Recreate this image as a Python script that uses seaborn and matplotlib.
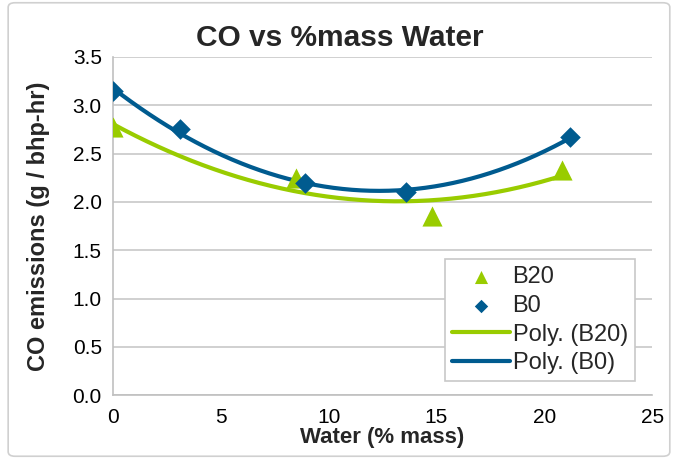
import numpy as np
import pandas as pd
import matplotlib
matplotlib.use("Agg")
import matplotlib.pyplot as plt
import seaborn as sns
from matplotlib.patches import FancyBboxPatch

# Data
b20_x = [0.0, 8.5, 14.8, 20.8]
b20_y = [2.77, 2.25, 1.85, 2.33]
b0_x = [0.0, 3.1, 8.9, 13.6, 21.2]
b0_y = [3.15, 2.75, 2.20, 2.10, 2.67]

green = "#99CC00"
blue = "#005B8F"

sns.set_theme(style="white")
plt.rcParams['font.family'] = ['Liberation Sans', 'DejaVu Sans']

fig = plt.figure(figsize=(6.8, 4.59), dpi=100)
ax = fig.add_axes([0.166, 0.139, 0.793, 0.737])

# Polynomial (degree 2) trendlines
xx = np.linspace(0, max(b20_x), 200)
p20 = np.polyfit(b20_x, b20_y, 2)
xx0 = np.linspace(0, max(b0_x), 200)
p0 = np.polyfit(b0_x, b0_y, 2)

df20 = pd.DataFrame({"x": b20_x, "y": b20_y})
df0 = pd.DataFrame({"x": b0_x, "y": b0_y})
fit20 = pd.DataFrame({"x": xx, "y": np.polyval(p20, xx)})
fit0 = pd.DataFrame({"x": xx0, "y": np.polyval(p0, xx0)})

sns.scatterplot(data=df20, x="x", y="y", ax=ax, marker="^", s=210, color=green,
                edgecolor=green, linewidth=0, label="B20", zorder=4)
sns.scatterplot(data=df0, x="x", y="y", ax=ax, marker="D", s=110, color=blue,
                edgecolor=blue, linewidth=0, label="B0", zorder=5)
sns.lineplot(data=fit20, x="x", y="y", ax=ax, color=green, linewidth=3,
             label="Poly. (B20)", zorder=3)
sns.lineplot(data=fit0, x="x", y="y", ax=ax, color=blue, linewidth=3,
             label="Poly. (B0)", zorder=3)

ax.set_xlim(0, 25)
ax.set_ylim(0, 3.5)
ax.set_xticks(np.arange(0, 26, 5))
ax.set_yticks(np.arange(0, 3.51, 0.5))
ax.set_yticklabels([f"{v:.1f}" for v in np.arange(0, 3.51, 0.5)])
ax.grid(axis="y", color="#C8C8C8", linewidth=1.2)
ax.grid(axis="x", visible=False)
for s in ["top", "right"]:
    ax.spines[s].set_visible(False)
for s in ["left", "bottom"]:
    ax.spines[s].set_color("#C0C0C0")
    ax.spines[s].set_linewidth(1.2)
ax.tick_params(axis="both", which="both", length=5, width=1.2, color="#C0C0C0",
               labelsize=15, colors="black", direction="out")
ax.tick_params(axis="x", pad=4)
ax.tick_params(axis="y", pad=3)
for lab in ax.get_xticklabels() + ax.get_yticklabels():
    lab.set_color("black")

ax.set_xlabel("Water (% mass)", fontsize=16, fontweight="bold", labelpad=0)
ax.set_ylabel("CO emissions (g / bhp-hr)", fontsize=17, fontweight="bold", labelpad=16)
ax.set_title("CO vs %mass Water", fontsize=21.5, fontweight="bold", pad=8, x=0.421)

leg = ax.legend(loc="lower right", bbox_to_anchor=(0.968, 0.041), fontsize=17,
                frameon=True, fancybox=False, handlelength=2.45, borderpad=0.3,
                labelspacing=0.28, handletextpad=0.12, borderaxespad=0,
                markerscale=0.65)
leg.get_frame().set_edgecolor("#C8C8C8")
leg.get_frame().set_linewidth(1.2)
leg.get_frame().set_alpha(1)

# outer chart border
border = FancyBboxPatch((0.012, 0.006), 0.973, 0.988, boxstyle="round,pad=0,rounding_size=0.01",
                        transform=fig.transFigure, fill=False, edgecolor="#D0D0D0",
                        linewidth=1.2)
fig.patches.append(border)

fig.savefig("out.png", dpi=100)
